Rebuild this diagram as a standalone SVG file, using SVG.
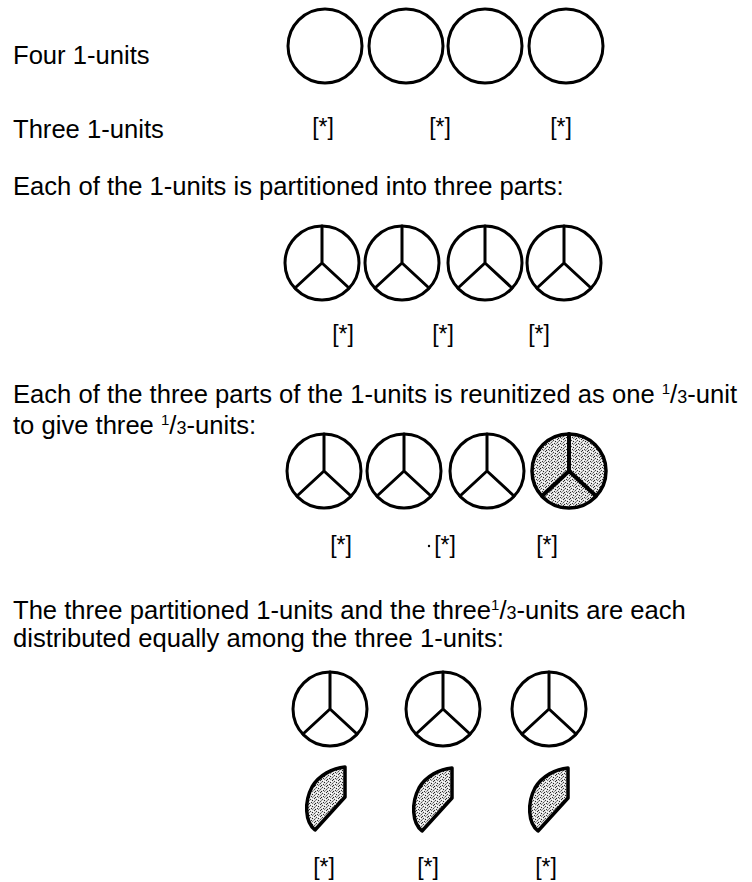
<svg xmlns="http://www.w3.org/2000/svg" width="752" height="882" viewBox="0 0 752 882">
<style>
text{font-family:"Liberation Sans",Arial,sans-serif;fill:#000}
.t{font-size:25.6px}
.b{font-size:23px;text-anchor:middle}
.c{fill:#fff;stroke:#000;stroke-width:3}
.s{stroke:#000;stroke-width:3;fill:none;stroke-linecap:round}
.sh{fill:url(#stip);stroke:#000;stroke-width:3.5;stroke-linejoin:round}
</style>
<defs>
<pattern id="stip" width="6" height="6" patternUnits="userSpaceOnUse">
<rect width="6" height="6" fill="#e2e2e2"/>
<rect x="0" y="0" width="1" height="1" fill="#222"/>
<rect x="3" y="0" width="1" height="1" fill="#777"/>
<rect x="2" y="1" width="1" height="1" fill="#fff"/>
<rect x="5" y="1" width="1" height="1" fill="#333"/>
<rect x="1" y="2" width="1" height="1" fill="#444"/>
<rect x="4" y="2" width="1" height="1" fill="#fff"/>
<rect x="3" y="3" width="1" height="1" fill="#222"/>
<rect x="0" y="3" width="1" height="1" fill="#888"/>
<rect x="5" y="4" width="1" height="1" fill="#555"/>
<rect x="1" y="4" width="1" height="1" fill="#fff"/>
<rect x="2" y="5" width="1" height="1" fill="#333"/>
<rect x="4" y="5" width="1" height="1" fill="#999"/>
</pattern>
<g id="peace">
<circle class="c" cx="0" cy="0" r="37"/>
<path class="s" d="M0,-37 L0,0 M0,0 L-27,25 M0,0 L27,25"/>
</g>
<path id="leaf" class="sh" d="M0,0 L0,30 L-30,63 C-40,55 -41,35 -33,20 C-26,8 -12,1 0,0 Z"/>
</defs>

<g id="row1">
<text class="t" x="13" y="64">Four 1-units</text>
<g id="units4">
<circle class="c" cx="325" cy="46" r="37"/>
<circle class="c" cx="406" cy="46" r="37"/>
<circle class="c" cx="485" cy="46" r="37"/>
<circle class="c" cx="566" cy="46" r="37"/>
</g>
<text class="t" x="13" y="138">Three 1-units</text>
<g id="marks1">
<text class="b" x="323" y="135">[*]</text>
<text class="b" x="440" y="135">[*]</text>
<text class="b" x="561" y="135">[*]</text>
</g>
</g>

<g id="row2">
<text class="t" x="13" y="195">Each of the 1-units is partitioned into three parts:</text>
<g id="part4">
<use href="#peace" x="322" y="263"/>
<use href="#peace" x="402" y="263"/>
<use href="#peace" x="485" y="263"/>
<use href="#peace" x="564" y="263"/>
</g>
<g id="marks2">
<text class="b" x="343" y="342">[*]</text>
<text class="b" x="443" y="342">[*]</text>
<text class="b" x="539" y="342">[*]</text>
</g>
</g>

<g id="row3">
<text class="t" x="13" y="403">Each of the three parts of the 1-units is reunitized as one <tspan font-size="15" dy="-9">1</tspan><tspan dy="9">/</tspan><tspan font-size="18">3</tspan>-unit</text>
<text class="t" x="13" y="434">to give three <tspan font-size="15" dy="-9">1</tspan><tspan dy="9">/</tspan><tspan font-size="18">3</tspan>-units:</text>
<g id="part3">
<use href="#peace" x="324" y="471"/>
<use href="#peace" x="404" y="471"/>
<use href="#peace" x="487" y="471"/>
</g>
<g id="third3">
<circle class="sh" cx="569" cy="471" r="37"/>
<path class="s" style="stroke-width:4" d="M569,434 L569,471 M569,471 L542,496 M569,471 L596,496"/>
</g>
<g id="marks3">
<text class="b" x="341" y="553">[*]</text>
<circle cx="429" cy="546" r="1.2" fill="#000"/>
<text class="b" x="445" y="553">[*]</text>
<text class="b" x="547" y="553">[*]</text>
</g>
</g>

<g id="row4">
<text class="t" x="13" y="619">The three partitioned 1-units and the three<tspan font-size="15" dy="-9">1</tspan><tspan dy="9">/</tspan><tspan font-size="18">3</tspan>-units are each</text>
<text class="t" x="13" y="647">distributed equally among the three 1-units:</text>
<g id="dist">
<use href="#peace" x="330" y="709"/>
<use href="#peace" x="443" y="709"/>
<use href="#peace" x="549" y="709"/>
</g>
<g id="leaves">
<use href="#leaf" x="345" y="767"/>
<use href="#leaf" x="452" y="768"/>
<use href="#leaf" x="568" y="768"/>
</g>
<g id="marks4">
<text class="b" x="324" y="875">[*]</text>
<text class="b" x="428" y="875">[*]</text>
<text class="b" x="546" y="875">[*]</text>
</g>
</g>
</svg>
